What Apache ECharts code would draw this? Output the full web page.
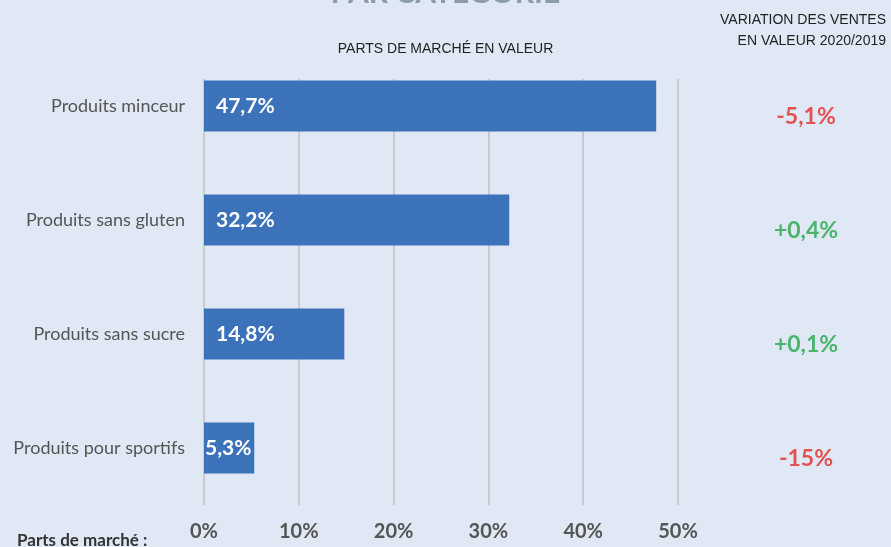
<!DOCTYPE html>
<html>
<head>
<meta charset="utf-8" />
<title>Parts de marché par catégorie</title>
<script src="https://cdn.jsdelivr.net/npm/echarts@6/dist/echarts.min.js"></script>
<style>
  html, body { margin: 0; padding: 0; background: #dfe8f4; }
  #chart { width: 891px; height: 547px; }
</style>
</head>
<body>
<div id="chart"></div>
<script>
// données
var categories = ['Produits minceur', 'Produits sans gluten', 'Produits sans sucre', 'Produits pour sportifs'];
var parts = [47.7, 32.2, 14.8, 5.3];
var variations = ['-5,1%', '+0,4%', '+0,1%', '-15%'];
var varColors = ['#e42b27', '#23a849', '#23a849', '#e42b27'];
var ticks = [0, 10, 20, 30, 40, 50];

var font = 'Lato, "Open Sans", sans-serif';
var thin = '"Liberation Sans", sans-serif';
var chart = echarts.init(document.getElementById('chart'));

var option = {
  backgroundColor: '#dfe8f4',
  animation: false,
  title: [
    { text: 'PAR CATÉGORIE', left: 'center', top: -27,
      textStyle: { fontSize: 30, fontWeight: 'bold', color: '#8c9da8', fontFamily: font } },
    { text: 'PARTS DE MARCHÉ EN VALEUR', left: 'center', top: 37,
      textStyle: { fontSize: 14, fontWeight: 'normal', color: '#222', fontFamily: thin } },
    { text: 'Parts de marché :', left: 12, top: 527,
      textStyle: { fontSize: 17, fontWeight: 'bold', color: '#333', fontFamily: font } }
  ],
  graphic: [
    { type: 'text', right: 5, top: 13,
      style: { text: 'VARIATION DES VENTES', fontSize: 14, fill: '#222', fontFamily: thin } },
    { type: 'text', right: 5, top: 34,
      style: { text: 'EN VALEUR 2020/2019', fontSize: 14, fill: '#222', fontFamily: thin } }
  ],
  grid: [
    { left: 204, width: 474, top: 49, bottom: 42 },
    { left: 204, width: 474, top: 79, bottom: 42 },
    { left: 741, width: 130, top: 49, bottom: 42 }
  ],
  xAxis: [
    { gridIndex: 0, type: 'value', min: 0, max: 50, interval: 10, show: false },
    { gridIndex: 1, type: 'value', min: ticks[0], max: ticks[ticks.length - 1], interval: 10,
      axisLine: { show: false }, axisTick: { show: false },
      splitLine: { show: true, lineStyle: { color: '#cacbcc', width: 2 } },
      axisLabel: { margin: 17, fontSize: 20, fontWeight: 'bold', color: '#555', fontFamily: font,
        formatter: function (v) { return v + '%'; } } },
    { gridIndex: 2, type: 'value', min: 0, max: 1, show: false }
  ],
  yAxis: [
    { gridIndex: 0, type: 'category', data: categories, inverse: true,
      axisLine: { show: false }, axisTick: { show: false },
      axisLabel: { margin: 19, fontSize: 18, color: '#555', fontFamily: font } },
    { gridIndex: 1, type: 'category', data: categories, show: false },
    { gridIndex: 2, type: 'category', data: categories, inverse: true, show: false }
  ],
  series: [
    {
      type: 'bar', xAxisIndex: 0, yAxisIndex: 0,
      barWidth: 51,
      itemStyle: { color: '#3b72ba' },
      data: parts.map(function (v) {
        return { value: v, label: { distance: v < 10 ? 1 : 12 } };
      }),
      label: {
        show: true, position: 'insideLeft',
        fontSize: 21, fontWeight: 'bold', color: '#fff', fontFamily: font,
        formatter: function (p) { return String(p.value).replace('.', ',') + '%'; }
      }
    },
    {
      type: 'scatter', xAxisIndex: 2, yAxisIndex: 2, symbolSize: 0,
      data: variations.map(function (t, i) {
        return { value: [0.5, categories[i]], label: { formatter: t, color: varColors[i] } };
      }),
      label: {
        show: true, position: 'inside', offset: [0, 11],
        fontSize: 23, fontWeight: 'bold', fontFamily: font
      }
    }
  ]
};

chart.setOption(option);
</script>
</body>
</html>
